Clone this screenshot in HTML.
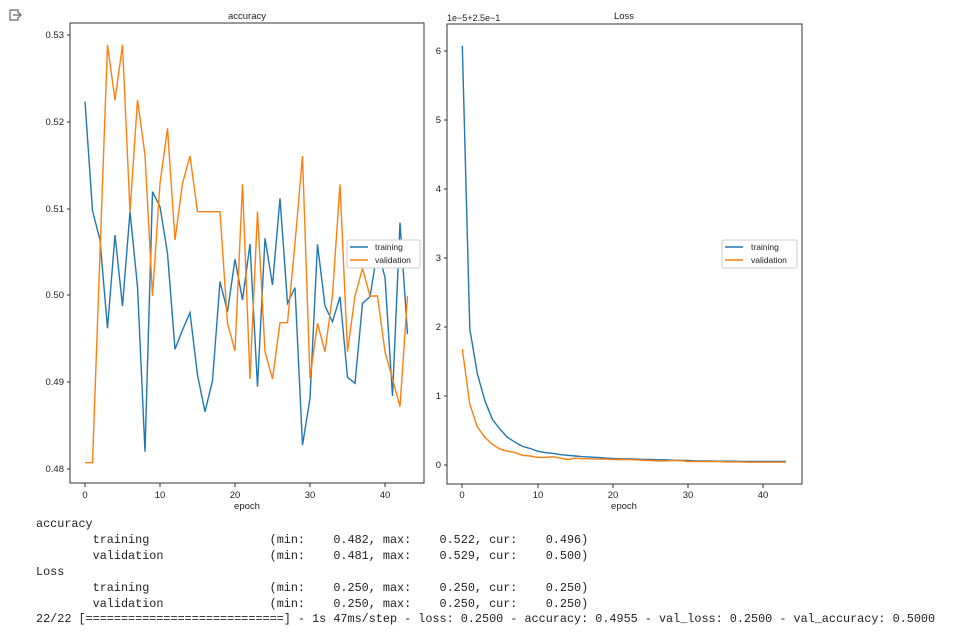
<!DOCTYPE html>
<html><head><meta charset="utf-8"><style>
body{margin:0;background:#fff;width:967px;height:635px;overflow:hidden;position:relative}
svg{position:absolute;left:0;top:0}
pre{position:absolute;left:36px;top:517px;margin:0;font-family:"Liberation Mono",monospace;font-size:11.8px;line-height:15.9px;color:#222}
</style></head><body>
<svg width="967" height="635" viewBox="0 0 967 635" font-family="Liberation Sans, DejaVu Sans, sans-serif" font-size="9.5" fill="#222">
<g fill="none" stroke="#666" stroke-width="1.2"><path d="M10 10h8v3M10 10v10h8v-3"/><path d="M13 15h8M18 12l3 3-3 3"/></g>
<text x="247" y="19" text-anchor="middle">accuracy</text>
<text x="624" y="19" text-anchor="middle">Loss</text>
<text x="447" y="21" font-size="9">1e−5+2.5e−1</text>
<rect x="70" y="23" width="354" height="460" fill="none" stroke="#333" stroke-width="1"/>
<rect x="447" y="24" width="355" height="460" fill="none" stroke="#333" stroke-width="1"/>
<g stroke="#333"><path d="M85 483v4M160 483v4M235 483v4M310 483v4M385 483v4M67 35h3M67 122h3M67 209h3M67 295h3M67 382h3M67 469h3"/>
<path d="M462 484v4M538 484v4M613 484v4M688 484v4M763 484v4M444 51h3M444 120h3M444 189h3M444 258h3M444 327h3M444 396h3M444 465h3"/></g>
<g text-anchor="middle"><text x="85" y="498">0</text><text x="160" y="498">10</text><text x="235" y="498">20</text><text x="310" y="498">30</text><text x="385" y="498">40</text>
<text x="462" y="498">0</text><text x="538" y="498">10</text><text x="613" y="498">20</text><text x="688" y="498">30</text><text x="763" y="498">40</text>
<text x="247" y="509">epoch</text><text x="624" y="509">epoch</text></g>
<g text-anchor="end"><text x="64" y="38">0.53</text><text x="64" y="125">0.52</text><text x="64" y="212">0.51</text><text x="64" y="298">0.50</text><text x="64" y="385">0.49</text><text x="64" y="472">0.48</text>
<text x="441" y="54">6</text><text x="441" y="123">5</text><text x="441" y="192">4</text><text x="441" y="261">3</text><text x="441" y="330">2</text><text x="441" y="399">1</text><text x="441" y="468">0</text></g>
<g id="L" fill="none" stroke-width="1.4"></g>
<rect x="347" y="240" width="73" height="28" fill="#fff" stroke="#ccc" rx="2"/>
<path d="M350 247h18" stroke="#1f77b4" stroke-width="1.5"/><path d="M350 260h18" stroke="#ff7f0e" stroke-width="1.5"/>
<text x="375" y="250" font-size="8.5">training</text><text x="375" y="263" font-size="8.5">validation</text>
<rect x="722" y="240" width="75" height="28" fill="#fff" stroke="#ccc" rx="2"/>
<path d="M725 247h18" stroke="#1f77b4" stroke-width="1.5"/><path d="M725 260h18" stroke="#ff7f0e" stroke-width="1.5"/>
<text x="751" y="250" font-size="8.5">training</text><text x="751" y="263" font-size="8.5">validation</text>
</svg>
<pre>accuracy
        training                 (min:    0.482, max:    0.522, cur:    0.496)
        validation               (min:    0.481, max:    0.529, cur:    0.500)
Loss
        training                 (min:    0.250, max:    0.250, cur:    0.250)
        validation               (min:    0.250, max:    0.250, cur:    0.250)
22/22 [============================] - 1s 47ms/step - loss: 0.2500 - accuracy: 0.4955 - val_loss: 0.2500 - val_accuracy: 0.5000</pre>
<script>
var at=[245,572,660,925,645,858,575,800,1295,515,560,700,988,930,878,1065,1175,1082,785,875,718,840,672,1100,655,795,535,850,803,1275,1135,673,858,905,830,1072,1090,850,830,690,772,1128,608,942];
var av=[1328,1328,700,75,240,75,575,240,405,828,490,325,660,490,408,575,575,575,575,910,993,493,1077,575,995,1077,908,908,670,408,1075,910,995,825,493,995,828,745,828,828,995,1077,1160,828];
var lt=[6.07,1.97,1.32,0.93,0.66,0.52,0.40,0.33,0.27,0.24,0.20,0.18,0.17,0.15,0.14,0.13,0.12,0.115,0.11,0.10,0.095,0.09,0.09,0.085,0.08,0.08,0.075,0.075,0.07,0.065,0.065,0.06,0.06,0.06,0.055,0.055,0.055,0.05,0.05,0.05,0.05,0.05,0.05,0.05];
var lv=[1.68,0.88,0.55,0.40,0.30,0.23,0.20,0.18,0.14,0.13,0.11,0.11,0.12,0.10,0.08,0.10,0.09,0.09,0.085,0.085,0.08,0.08,0.08,0.075,0.07,0.065,0.06,0.06,0.065,0.065,0.05,0.05,0.05,0.05,0.05,0.045,0.045,0.045,0.04,0.04,0.04,0.04,0.04,0.04];
function pl(a,fx,fy,c){var p=a.map(function(v,i){return fx(i).toFixed(1)+','+fy(v).toFixed(1)}).join(' ');
return '<polyline points="'+p+'" stroke="'+c+'"/>';}
var h='';
h+=pl(at,function(i){return 85+7.5*i},function(v){return v/3+20},'#1f77b4');
h+=pl(av,function(i){return 85+7.5*i},function(v){return v/3+20},'#ff7f0e');
h+=pl(lt,function(i){return 462.3+7.525*i},function(v){return 465-69.05*v},'#1f77b4');
h+=pl(lv,function(i){return 462.3+7.525*i},function(v){return 465-69.05*v},'#ff7f0e');
document.getElementById('L').innerHTML=h;
</script>
</body></html>
